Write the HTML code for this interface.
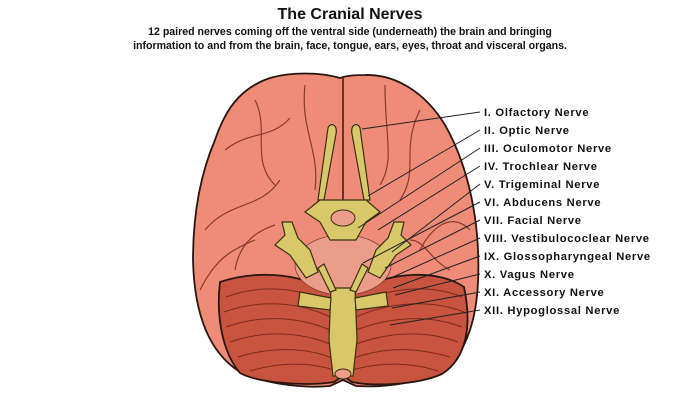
<!DOCTYPE html>
<html><head><style>
body{margin:0;background:#fff;width:700px;height:400px;overflow:hidden;font-family:"Liberation Sans",sans-serif}
</style></head><body>
<svg width="700" height="400" viewBox="0 0 700 400" xmlns="http://www.w3.org/2000/svg">
<text x="350" y="19" font-size="16" font-weight="bold" text-anchor="middle" fill="#111">The Cranial Nerves</text>
<text x="350" y="35" font-size="10.6" font-weight="bold" text-anchor="middle" fill="#111">12 paired nerves coming off the ventral side (underneath) the brain and bringing</text>
<text x="350" y="49" font-size="10.6" font-weight="bold" text-anchor="middle" fill="#111">information to and from the brain, face, tongue, ears, eyes, throat and visceral organs.</text>
<path d="M340,78 C320,72 290,72 270,78 C240,88 225,110 215,140 C200,175 193,215 193,260 C194,305 205,350 240,372 C270,386 310,388 330,386 L343,380 L356,386 C390,388 430,382 455,360 C475,332 480,295 478,250 C476,205 465,160 445,125 C425,92 395,74 365,75 C352,75 345,76 340,78 Z" fill="#ee8c78" stroke="#2a1510" stroke-width="1.8"/>
<path d="M343,78 L343,210" stroke="#5a2a20" stroke-width="1.8"/>
<g stroke="#8a3a2c" stroke-width="1.2" fill="none">
<path d="M225,150 C250,130 270,140 290,118"/><path d="M205,230 C230,200 260,210 280,180"/>
<path d="M200,290 C215,260 230,250 255,240"/><path d="M305,85 C300,130 320,150 315,190"/>
<path d="M420,110 C400,150 420,170 400,200"/><path d="M470,230 C450,210 430,230 420,250"/>
<path d="M385,85 C385,140 395,160 380,185"/><path d="M255,100 C270,130 250,160 275,185"/>
<path d="M235,270 C240,240 260,230 275,225"/><path d="M450,270 C430,260 425,240 410,240"/>
</g>
<path d="M220,282 C250,272 295,270 330,292 L343,297 L356,292 C390,270 440,270 464,287 C472,325 467,358 442,374 C415,386 370,386 352,382 L343,376 L334,382 C310,386 260,384 240,373 C222,352 216,315 220,282 Z" fill="#c8543f" stroke="#2a1510" stroke-width="1.8"/>
<g stroke="#7a2a1c" stroke-width="1" fill="none">
<path d="M226,297 C260,284 300,287 330,304"/><path d="M224,312 C260,299 300,302 330,317"/>
<path d="M226,327 C262,314 300,317 330,330"/><path d="M230,342 C265,330 300,332 330,344"/>
<path d="M238,357 C270,347 305,347 332,358"/><path d="M250,371 C280,362 310,362 334,370"/>
<path d="M462,297 C430,284 390,287 356,304"/><path d="M464,312 C430,299 390,302 356,317"/>
<path d="M462,327 C428,314 390,317 356,330"/><path d="M458,342 C425,330 390,332 356,344"/>
<path d="M450,357 C415,347 385,347 354,358"/><path d="M438,371 C410,362 380,362 352,370"/>
</g>
<ellipse cx="343" cy="265" rx="48" ry="30" fill="#eb9d8a" stroke="#7a3a2c" stroke-width="0.8"/>
<g fill="#d9c86a" stroke="#3a3010" stroke-width="1.2">
<path d="M328,128 C330,122 338,124 336,134 L324,200 L318,200 Z"/>
<path d="M360,128 C358,122 350,124 352,134 L364,200 L370,200 Z"/>
<path d="M305,212 L320,200 L366,200 L380,212 L366,222 L356,240 L330,240 L320,222 Z"/>
<path d="M282,222 L292,222 L298,238 L310,250 L318,272 L306,278 L290,255 L275,245 L285,235 Z"/>
<path d="M404,222 L394,222 L388,238 L376,250 L368,272 L380,278 L396,255 L411,245 L401,235 Z"/>
<path d="M331,288 L355,288 L357,340 L353,376 L333,376 L329,340 Z"/>
<path d="M300,292 L331,298 L330,310 L298,306 Z"/><path d="M386,292 L355,298 L356,310 L388,306 Z"/>
<path d="M318,268 L330,292 L336,290 L324,264 Z"/><path d="M368,268 L356,292 L350,290 L362,264 Z"/>
</g>
<ellipse cx="343" cy="218" rx="12" ry="8" fill="#eb9d8a" stroke="#3a3010"/>
<ellipse cx="343" cy="374" rx="8" ry="5" fill="#eb9d8a" stroke="#3a3010"/>
<g stroke="#222" stroke-width="1">
<line x1="480" y1="112" x2="362" y2="129"/><line x1="480" y1="130" x2="368" y2="196"/>
<line x1="480" y1="148" x2="358" y2="228"/><line x1="480" y1="166" x2="378" y2="230"/>
<line x1="480" y1="184" x2="392" y2="252"/><line x1="480" y1="202" x2="363" y2="263"/>
<line x1="480" y1="220" x2="385" y2="268"/><line x1="480" y1="238" x2="393" y2="277"/>
<line x1="480" y1="256" x2="393" y2="288"/><line x1="480" y1="274" x2="395" y2="295"/>
<line x1="480" y1="292" x2="392" y2="308"/><line x1="480" y1="310" x2="390" y2="325"/>
</g>
<g font-size="11.2" font-weight="bold" fill="#111" letter-spacing="0.7">
<text x="484" y="116">I. Olfactory Nerve</text>
<text x="484" y="134">II. Optic Nerve</text>
<text x="484" y="152">III. Oculomotor Nerve</text>
<text x="484" y="170">IV. Trochlear Nerve</text>
<text x="484" y="188">V. Trigeminal Nerve</text>
<text x="484" y="206">VI. Abducens Nerve</text>
<text x="484" y="224">VII. Facial Nerve</text>
<text x="484" y="242">VIII. Vestibulococlear Nerve</text>
<text x="484" y="260">IX. Glossopharyngeal Nerve</text>
<text x="484" y="278">X. Vagus Nerve</text>
<text x="484" y="296">XI. Accessory Nerve</text>
<text x="484" y="314">XII. Hypoglossal Nerve</text>
</g>
</svg>
</body></html>
